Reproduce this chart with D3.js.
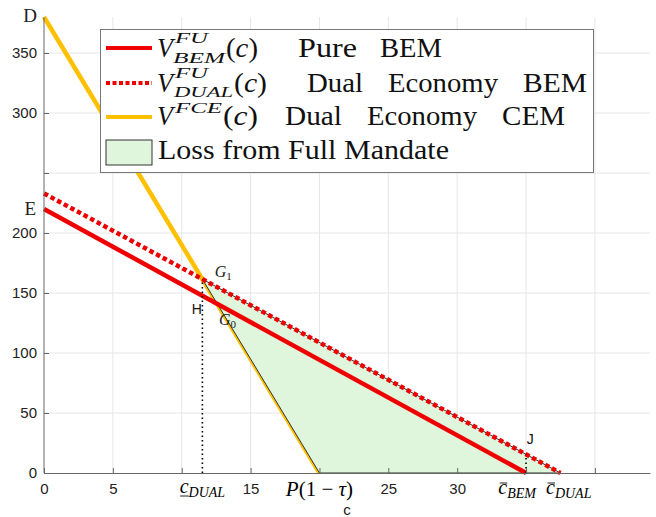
<!DOCTYPE html>
<html>
<head>
<meta charset="utf-8">
<script src="https://cdn.jsdelivr.net/npm/d3@7"></script>
<style>
  body { margin: 0; background: #fff; }
  svg { display: block; }
  .serif { font-family: "Liberation Serif", "DejaVu Serif", serif; }
  .sans { font-family: "Liberation Sans", Arial, sans-serif; }
</style>
</head>
<body>
<svg id="chart" width="656" height="517"></svg>
<script>
// data
const xTicks = [0, 5, 10, 15, 20, 25, 30, 35, 40];
const xTickLabels = ["0", "5", "", "15", "", "25", "30", "", ""];
const yTicks = [0, 50, 100, 150, 200, 250, 300, 350];
const yTickLabels = ["0", "50", "100", "150", "200", "", "300", "350"];

const fceLine = [[0, 380], [20, 0]];      // V^FCE(c)
const bemLine = [[0, 220], [35, 0]];      // V^FU_BEM(c)
const dualLine = [[0, 233], [37.5, 0]];   // V^FU_DUAL(c)
const lossArea = [[11.5, 161.5], [37.5, 0], [20, 0]];
const hDrop = [[11.5, 0], [11.5, 161.5]];
const jDrop = [[35, 0], [35, 15.5]];

// point labels [text, x, y]
const pointLabels = [["D", -1.0, 376], ["E", -1.0, 215]];
const sansLabels = [["H", 11.1, 132.5], ["J", 35.3, 24]];
const gLabels = [["G", "1", 12.4, 163], ["G", "0", 12.7, 123]];

const svg = d3.select("#chart");
const x = d3.scaleLinear().domain([0, 44]).range([44, 650]);
const y = d3.scaleLinear().domain([0, 380]).range([473, 17]);

const red = "#ee0000", gold = "#ffc000", green = "#dff5dc";

// grid
svg.append("g").selectAll("line").data(xTicks.filter(d => d > 0)).join("line")
    .attr("x1", d => x(d)).attr("x2", d => x(d))
    .attr("y1", y(0)).attr("y2", y(380))
    .attr("stroke", "#e6e6e6").attr("stroke-width", 1);
svg.append("g").selectAll("line").data(yTicks.filter(d => d > 0)).join("line")
    .attr("x1", x(0)).attr("x2", x(44))
    .attr("y1", d => y(d)).attr("y2", d => y(d))
    .attr("stroke", "#e6e6e6").attr("stroke-width", 1);

const line = d3.line().x(d => x(d[0])).y(d => y(d[1]));

// yellow CEM line
svg.append("path").datum(fceLine).attr("d", line)
    .attr("fill", "none").attr("stroke", gold).attr("stroke-width", 4.5);

// loss area
svg.append("path").datum(lossArea).attr("d", d => line(d) + "Z")
    .attr("fill", green).attr("stroke", "#333").attr("stroke-width", 1);

svg.append("path").datum(bemLine).attr("d", line)
    .attr("fill", "none").attr("stroke", red).attr("stroke-width", 4.5);
svg.append("path").datum(dualLine).attr("d", line)
    .attr("fill", "none").attr("stroke", red).attr("stroke-width", 4.5)
    .attr("stroke-dasharray", "4.5,3");

[hDrop, jDrop].forEach(seg => {
  svg.append("path").datum(seg).attr("d", line)
      .attr("fill", "none").attr("stroke", "#000").attr("stroke-width", 1.6)
      .attr("stroke-dasharray", "1.5,3");
});

// axes
const xAxis = svg.append("g").attr("transform", `translate(0,${y(0)})`)
    .call(d3.axisBottom(x).tickValues(xTicks).tickFormat((d, i) => xTickLabels[i])
      .tickSizeInner(-5).tickSizeOuter(0).tickPadding(10));
const yAxis = svg.append("g").attr("transform", `translate(${x(0)},0)`)
    .call(d3.axisLeft(y).tickValues(yTicks).tickFormat((d, i) => yTickLabels[i])
      .tickSizeInner(-5).tickSizeOuter(0).tickPadding(7));
[xAxis, yAxis].forEach(a => {
  a.select(".domain").attr("stroke", "#666");
  a.selectAll(".tick line").attr("stroke", "#666");
  a.selectAll("text").attr("class", "sans").style("font-size", "15px").attr("fill", "#222");
});
yAxis.select(".domain").attr("d", `M0,${y(0)}V${y(380)}`);

svg.append("text").attr("class", "sans").attr("x", x(22)).attr("y", 515)
    .attr("text-anchor", "middle").style("font-size", "15px").attr("fill", "#222").text("c");

// special x labels (serif math)
function mathLabel(cx, base, main, sub, deco) {
  const g = svg.append("g");
  const t = g.append("text").attr("class", "serif").attr("y", base).attr("font-style", "italic")
      .attr("text-anchor", "middle").attr("x", cx);
  t.append("tspan").style("font-size", "20px").text(main);
  t.append("tspan").attr("dy", 4).style("font-size", "14px").text(sub);
  const w = t.node().getComputedTextLength();
  const cw = 9;
  const x0 = cx - w / 2;
  if (deco === "under") {
    g.append("line").attr("x1", x0 + 0.5).attr("x2", x0 + cw).attr("y1", base + 3).attr("y2", base + 3)
        .attr("stroke", "#222").attr("stroke-width", 1);
  } else {
    g.append("line").attr("x1", x0 + 1.5).attr("x2", x0 + cw).attr("y1", base - 11).attr("y2", base - 11)
        .attr("stroke", "#222").attr("stroke-width", 1);
  }
}
mathLabel(x(11.5), 493, "c", "DUAL", "under");
mathLabel(x(34.35), 494, "c", "BEM", "bar");
mathLabel(x(38.1), 494, "c", "DUAL", "bar");

svg.append("text").attr("class", "serif").attr("x", x(20)).attr("y", 496)
    .attr("text-anchor", "middle").style("font-size", "21px")
    .html('<tspan font-style="italic">P</tspan>(1 \u2212 <tspan font-style="italic">\u03C4</tspan>)');

// point labels
pointLabels.forEach(([t, vx, vy]) => {
  svg.append("text").attr("class", "serif").attr("x", x(vx)).attr("y", y(vy))
      .attr("text-anchor", "middle").style("font-size", "19px").attr("fill", "#222").text(t);
});
sansLabels.forEach(([t, vx, vy]) => {
  svg.append("text").attr("class", "sans").attr("x", x(vx)).attr("y", y(vy))
      .attr("text-anchor", "middle").style("font-size", "14px").attr("fill", "#111").text(t);
});
gLabels.forEach(([t, s, vx, vy]) => {
  const tx = svg.append("text").attr("class", "serif").attr("x", x(vx)).attr("y", y(vy))
      .attr("font-style", "italic").attr("fill", "#222");
  tx.append("tspan").style("font-size", "16px").text(t);
  tx.append("tspan").attr("dy", 3).attr("font-style", "normal").style("font-size", "11px").text(s);
});

// legend
const legendNames = ["Pure   BEM", "Dual   Economy   BEM", "Dual   Economy   CEM", "Loss from Full Mandate"];
const legendSup = ["FU", "FU", "FCE", ""];
const legendSub = ["BEM", "DUAL", "", ""];

const lg = svg.append("g");
lg.append("rect").attr("x", 100.5).attr("y", 29.5).attr("width", 493).attr("height", 143)
    .attr("fill", "#fff").attr("stroke", "#777").attr("stroke-width", 1);

const rows = [57, 92, 125, 159];
const serifText = (px, py, txt, size, italic, len) => {
  const t = lg.append("text").attr("class", "serif").attr("x", px).attr("y", py)
      .style("font-size", size + "px").attr("fill", "#111").text(txt);
  if (italic) t.attr("font-style", "italic");
  if (len) t.attr("textLength", len).attr("lengthAdjust", "spacingAndGlyphs");
  return t;
};

// sample marks
lg.append("line").attr("x1", 106).attr("x2", 152).attr("y1", 48).attr("y2", 48)
    .attr("stroke", red).attr("stroke-width", 4);
lg.append("line").attr("x1", 106).attr("x2", 152).attr("y1", 83).attr("y2", 83)
    .attr("stroke", red).attr("stroke-width", 4).attr("stroke-dasharray", "4,2.5");
lg.append("line").attr("x1", 106).attr("x2", 152).attr("y1", 117).attr("y2", 117)
    .attr("stroke", gold).attr("stroke-width", 4);
lg.append("rect").attr("x", 106).attr("y", 140).attr("width", 46).attr("height", 25)
    .attr("fill", green).attr("stroke", "#333").attr("stroke-width", 1);

// row 1
serifText(157, rows[0], "V", 27, true, 16);
serifText(175, rows[0] - 14, legendSup[0], 14, true, 33);
serifText(173, rows[0] + 6, legendSub[0], 14, true, 52);
serifText(226, rows[0], "(c)", 27, false, 32).html('(<tspan font-style="italic">c</tspan>)');
serifText(298, rows[0], "Pure", 27, false, 59);
serifText(380, rows[0], "BEM", 27, false, 62);
// row 2
serifText(157, rows[1], "V", 27, true, 16);
serifText(175, rows[1] - 14, legendSup[1], 14, true, 33);
serifText(174, rows[1] + 5, legendSub[1], 14, true, 59);
serifText(234, rows[1], "(c)", 27, false, 33).html('(<tspan font-style="italic">c</tspan>)');
serifText(307, rows[1], "Dual", 27, false, 56);
serifText(388, rows[1], "Economy", 27, false, 110);
serifText(523, rows[1], "BEM", 27, false, 64);
// row 3
serifText(157, rows[2], "V", 27, true, 16);
serifText(175, rows[2] - 12, legendSup[2], 14, true, 47);
serifText(223, rows[2], "(c)", 27, false, 35).html('(<tspan font-style="italic">c</tspan>)');
serifText(285, rows[2], "Dual", 27, false, 57);
serifText(367, rows[2], "Economy", 27, false, 110);
serifText(502, rows[2], "CEM", 27, false, 63);
// row 4
serifText(158, rows[3], legendNames[3], 27, false, 291);
</script>
</body>
</html>
